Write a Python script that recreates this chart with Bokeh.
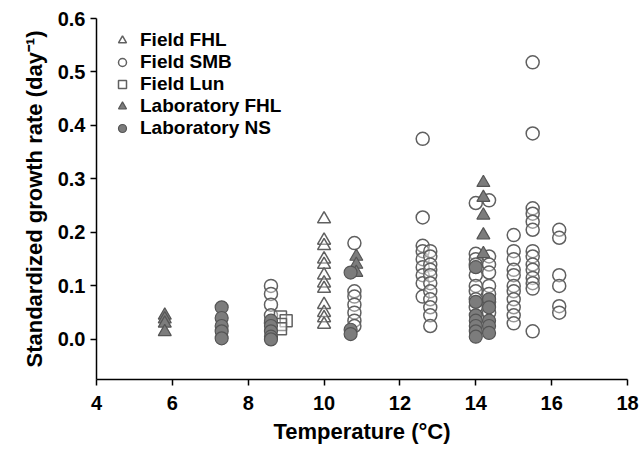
from bokeh.plotting import figure
from bokeh.models import FixedTicker, Legend, LegendItem, NumeralTickFormatter, Range1d
from bokeh.embed import file_html
from bokeh.resources import INLINE

# ---- data ----
field_fhl_x = [10.0, 10.0, 10.0, 10.0, 10.0, 10.0, 10.0, 10.0, 10.0, 10.0, 10.0, 10.0]
field_fhl_y = [0.225, 0.185, 0.175, 0.15, 0.14, 0.12, 0.105, 0.095, 0.065, 0.05, 0.04, 0.028]

field_smb_x = ([8.6] * 5 + [10.8] * 7 + [12.6] * 9 + [12.8] * 11 + [14.0] * 9 +
               [14.35] * 8 + [15.0] * 11 + [15.5] * 14 + [16.2] * 6)
field_smb_y = [0.1, 0.085, 0.065, 0.045, 0.03,
               0.18, 0.09, 0.08, 0.065, 0.05, 0.035, 0.025,
               0.375, 0.228, 0.175, 0.165, 0.15, 0.135, 0.12, 0.105, 0.08,
               0.165, 0.155, 0.14, 0.13, 0.12, 0.105, 0.09, 0.075, 0.06, 0.045, 0.025,
               0.255, 0.16, 0.15, 0.14, 0.12, 0.1, 0.09, 0.075, 0.06,
               0.26, 0.155, 0.14, 0.125, 0.1, 0.085, 0.07, 0.05,
               0.195, 0.165, 0.15, 0.13, 0.12, 0.1, 0.09, 0.075, 0.06, 0.045, 0.03,
               0.518, 0.385, 0.245, 0.235, 0.22, 0.205, 0.165, 0.155, 0.14, 0.13, 0.115, 0.105, 0.095, 0.015,
               0.205, 0.19, 0.12, 0.1, 0.062, 0.05]

field_lun_x = [8.85, 9.0, 8.85, 8.85]
field_lun_y = [0.042, 0.035, 0.028, 0.02]

lab_fhl_x = [5.8, 5.8, 5.8, 5.8, 10.85, 10.85, 10.85, 14.2, 14.2, 14.2, 14.2, 14.2]
lab_fhl_y = [0.045, 0.038, 0.03, 0.014, 0.155, 0.14, 0.125, 0.293, 0.265, 0.232, 0.195, 0.16]

lab_ns_x = ([7.3] * 5 + [8.6] * 5 + [10.7] * 3 + [14.0] * 7 + [14.35] * 5)
lab_ns_y = [0.06, 0.04, 0.025, 0.015, 0.002,
            0.035, 0.025, 0.015, 0.005, 0.0,
            0.125, 0.018, 0.01,
            0.135, 0.07, 0.045, 0.035, 0.025, 0.015, 0.005,
            0.075, 0.06, 0.035, 0.025, 0.012]

x_ticks = [4, 6, 8, 10, 12, 14, 16, 18]
y_ticks = [0.0, 0.1, 0.2, 0.3, 0.4, 0.5, 0.6]

FONT = "Liberation Sans"

p = figure(width=640, height=446, output_backend="svg", toolbar_location=None,
           x_range=Range1d(4, 18), y_range=Range1d(-0.075, 0.6),
           min_border_left=96, min_border_right=13, min_border_top=18, min_border_bottom=67)
p.outline_line_color = None
p.xgrid.visible = False
p.ygrid.visible = False
p.background_fill_color = "white"

open_line = "#606060"
fill_gray = "#7c7c7c"
fill_line = "#555555"

r_smb = p.scatter(field_smb_x, field_smb_y, marker="circle", size=13,
                  fill_color="white", fill_alpha=0.35, line_color=open_line, line_width=1.5)
r_ffhl = p.scatter(field_fhl_x, field_fhl_y, marker="triangle", size=13,
                   fill_color="white", fill_alpha=0.35, line_color=open_line, line_width=1.5)
r_lun = p.scatter(field_lun_x, field_lun_y, marker="square", size=12,
                  fill_color="white", fill_alpha=0.35, line_color=open_line, line_width=1.5)
r_lfhl = p.scatter(lab_fhl_x, lab_fhl_y, marker="triangle", size=13,
                   fill_color=fill_gray, line_color=fill_line, line_width=1.2)
r_lns = p.scatter(lab_ns_x, lab_ns_y, marker="circle", size=13,
                  fill_color=fill_gray, line_color=fill_line, line_width=1.2)

for ax in (p.xaxis[0], p.yaxis[0]):
    ax.axis_line_color = "black"
    ax.axis_line_width = 1.5
    ax.major_tick_line_color = "black"
    ax.major_tick_line_width = 1.5
    ax.major_tick_out = 6
    ax.major_tick_in = 0
    ax.minor_tick_line_color = None
    ax.major_label_text_font = FONT
    ax.major_label_text_font_style = "bold"
    ax.major_label_text_font_size = "20px"
    ax.major_label_text_color = "black"
    ax.axis_label_text_font = FONT
    ax.axis_label_text_font_style = "bold"
    ax.axis_label_text_font_size = "22px"
    ax.axis_label_text_color = "black"

p.xaxis[0].ticker = FixedTicker(ticks=x_ticks)
p.yaxis[0].ticker = FixedTicker(ticks=y_ticks)
p.yaxis[0].formatter = NumeralTickFormatter(format="0.0")
p.xaxis[0].axis_label = "Temperature (°C)"
p.yaxis[0].axis_label = "Standardized growth rate (day\u207b\u00b9)"
p.xaxis[0].major_label_standoff = 10
p.yaxis[0].major_label_standoff = 5
p.xaxis[0].axis_label_standoff = 6
p.yaxis[0].axis_label_standoff = 8

legend = Legend(items=[
    LegendItem(label="Field FHL", renderers=[r_ffhl]),
    LegendItem(label="Field SMB", renderers=[r_smb]),
    LegendItem(label="Field Lun", renderers=[r_lun]),
    LegendItem(label="Laboratory FHL", renderers=[r_lfhl]),
    LegendItem(label="Laboratory NS", renderers=[r_lns]),
], location=(16, 240))
legend.border_line_color = None
legend.background_fill_alpha = 0
legend.label_text_font = FONT
legend.label_text_font_style = "bold"
legend.label_text_font_size = "19px"
legend.label_text_color = "black"
legend.glyph_width = 20
legend.glyph_height = 20
legend.label_height = 20
legend.spacing = 0
legend.padding = 5
legend.margin = 0
legend.label_standoff = 8
p.add_layout(legend)

open("out.html", "w").write(file_html(p, INLINE))
